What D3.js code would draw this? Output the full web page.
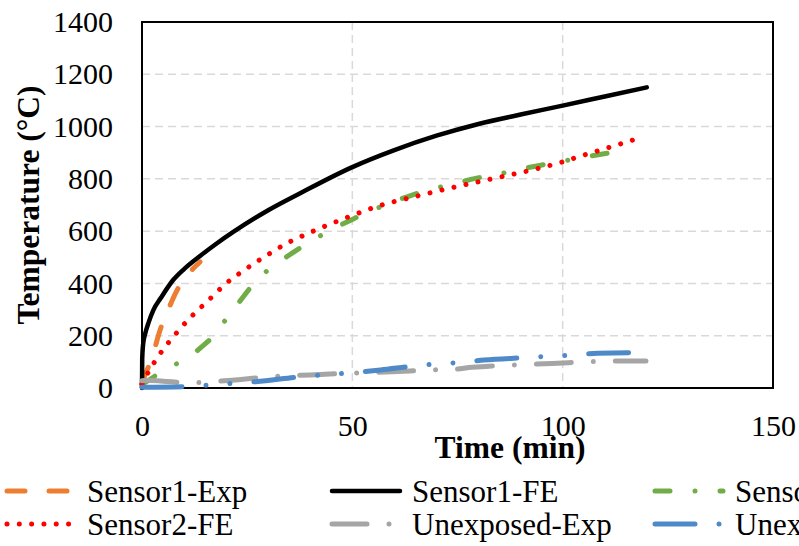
<!DOCTYPE html>
<html>
<head>
<meta charset="utf-8">
<script src="https://cdn.jsdelivr.net/npm/d3@7"></script>
<style>
  body { margin: 0; background: #fff; }
  text { font-family: "Liberation Serif", "Times New Roman", serif; fill: #000; }
</style>
</head>
<body>
<div id="chart"></div>
<script>
// tick values
var xTicks = [0, 50, 100, 150];
var yTicks = [0, 200, 400, 600, 800, 1000, 1200, 1400];

// series (time in min, temperature in °C)
var s1ExpTime = [0, 0.7, 1.5, 2.7, 4.3, 6.2, 8.1, 11.2, 13.8];
var s1ExpTemp = [15, 50, 80, 134, 222, 298, 367, 440, 482];

var s1FeTime = [0, 0.05, 0.25, 0.8, 1.6, 2.7, 4.5, 7.4, 10, 13.8, 17.5, 21.7, 30, 37.6, 50, 60, 70, 80, 90, 100, 110, 120];
var s1FeTemp = [0, 110, 165, 210, 252, 298, 345, 413, 455, 505, 550, 597, 680, 745, 845, 910, 965, 1010, 1046, 1080, 1115, 1150];

var s2ExpTime = [0, 1, 3, 4.7, 9.4, 12, 13.8, 17.4, 20.5, 24, 27.1, 31.2, 35.6, 40, 45, 50, 57, 64.2, 68.6, 74, 79.3, 83.8, 89.4, 94.8, 99.1, 104.9, 110.2, 115];
var s2ExpTemp = [15, 24, 45, 62, 103, 128, 152, 206, 275, 347, 410, 466, 515, 560, 605, 645, 695, 738, 760, 780, 802, 814, 836, 852, 865, 882, 897, 907];

var s2FeTime = [0, 1, 3.9, 7.6, 11.4, 15.7, 20, 24.5, 29.3, 34.4, 40, 50, 57, 64.6, 72, 78.9, 86, 93.2, 100, 104.3, 112, 118.4];
var s2FeTemp = [15, 46, 122, 199, 268, 334, 400, 453, 504, 553, 595, 660, 700, 731, 760, 785, 810, 836, 865, 887, 925, 957];

var unExpTime = [0, 1, 5, 11.4, 16.6, 21.4, 30.5, 40, 50, 59.4, 69, 73.7, 78.5, 88, 92.8, 97.5, 107, 111.8, 116.6, 119.8];
var unExpTemp = [28, 30, 26, 20, 24, 30, 43, 50, 57, 62, 69, 71, 79, 88, 91, 94, 101, 103, 103, 103];

var unFeTime = [0, 10, 15.8, 21.5, 27, 37.6, 47, 56.7, 64.6, 70, 75.7, 81.3, 92, 97.3, 103, 108.3, 119.4];
var unFeTemp = [3, 5, 11, 18, 24, 43, 55, 69, 84, 92, 98, 107, 117, 122, 126, 133, 135];

var seriesNames = ["Sensor1-Exp", "Sensor1-FE", "Sensor2-Exp", "Sensor2-FE", "Unexposed-Exp", "Unexposed-FE"];

function init(){

  var w = 799, h = 546;
  var plot = {left: 142, right: 773, top: 22, bottom: 388};

  var series = [
    {name: seriesNames[0], t: s1ExpTime, v: s1ExpTemp, color: "#ED7D31", width: 5, dash: "18,24"},
    {name: seriesNames[1], t: s1FeTime, v: s1FeTemp, color: "#000000", width: 4.5, dash: null},
    {name: seriesNames[2], t: s2ExpTime, v: s2ExpTemp, color: "#70AD47", width: 5, dash: "15,25,0.01,25"},
    {name: seriesNames[3], t: s2FeTime, v: s2FeTemp, color: "#FF0000", width: 5, dash: "0.01,12.3"},
    {name: seriesNames[4], t: unExpTime, v: unExpTemp, color: "#A5A5A5", width: 5, dash: "35,22,0.01,22"},
    {name: seriesNames[5], t: unFeTime, v: unFeTemp, color: "#4E89C8", width: 5, dash: "40,24,0.01,24,0.01,24"}
  ];

  var xScale = d3.scaleLinear().domain([0, 150]).range([plot.left, plot.right]);
  var yScale = d3.scaleLinear().domain([0, 1400]).range([plot.bottom, plot.top]);

  var svg = d3.select("#chart")
              .append("svg")
                .attr("width", w)
                .attr("height", h);

  //gridlines
  svg.append("g")
    .selectAll("line")
    .data(yTicks.filter(function(d){ return d > 0 && d < 1400; }))
    .enter()
    .append("line")
      .attr("x1", plot.left).attr("x2", plot.right)
      .attr("y1", function(d){ return yScale(d); })
      .attr("y2", function(d){ return yScale(d); })
      .attr("stroke", "#d9d9d9")
      .attr("stroke-width", 1.5)
      .attr("stroke-dasharray", "8,5");

  svg.append("g")
    .selectAll("line")
    .data(xTicks.filter(function(d){ return d > 0 && d < 150; }))
    .enter()
    .append("line")
      .attr("y1", plot.top).attr("y2", plot.bottom)
      .attr("x1", function(d){ return xScale(d); })
      .attr("x2", function(d){ return xScale(d); })
      .attr("stroke", "#d9d9d9")
      .attr("stroke-width", 1.5)
      .attr("stroke-dasharray", "8,5");

  //plot frame
  svg.append("rect")
    .attr("x", plot.left)
    .attr("y", plot.top)
    .attr("width", plot.right - plot.left)
    .attr("height", plot.bottom - plot.top)
    .attr("fill", "none")
    .attr("stroke", "#000")
    .attr("stroke-width", 2);

  //line generator
  var line = d3.line()
      .x(function(d) { return xScale(d[0]); })
      .y(function(d) { return yScale(d[1]); })
      .curve(d3.curveMonotoneX);

  series.forEach(function(s){
    var pts = s.t.map(function(t, i){ return [t, s.v[i]]; });
    svg.append("path")
      .datum(pts)
      .attr("d", line)
      .attr("fill", "none")
      .attr("stroke", s.color)
      .attr("stroke-width", s.width)
      .attr("stroke-linecap", "round")
      .attr("stroke-linejoin", "round")
      .attr("stroke-dasharray", s.dash);
  });

  //y-axis labels
  var yAxis = d3.axisLeft(yScale).tickValues(yTicks).tickFormat(d3.format("d")).tickSize(0).tickPadding(29);
  var gy = svg.append("g")
    .attr("transform", "translate(" + plot.left + ",0)")
    .call(yAxis)
    .attr("font-family", "Liberation Serif, serif")
    .attr("font-size", 30);
  gy.select(".domain").remove();
  gy.selectAll("text").attr("fill", "#000");

  //x-axis labels
  var xAxis = d3.axisBottom(xScale).tickValues(xTicks).tickFormat(d3.format("d")).tickSize(0).tickPadding(27);
  var gx = svg.append("g")
    .attr("transform", "translate(0," + plot.bottom + ")")
    .call(xAxis)
    .attr("font-family", "Liberation Serif, serif")
    .attr("font-size", 30);
  gx.select(".domain").remove();
  gx.selectAll("text").attr("fill", "#000");

  //axis titles
  svg.append("text")
    .attr("transform", "translate(39," + (plot.top + plot.bottom) / 2 + ") rotate(270)")
    .attr("text-anchor", "middle")
    .style("font-size", "31.5px")
    .style("font-weight", "bold")
    .text("Temperature (°C)");

  svg.append("text")
    .attr("x", 510)
    .attr("y", 458)
    .attr("text-anchor", "middle")
    .style("font-size", "31.5px")
    .style("font-weight", "bold")
    .text("Time (min)");

  //legend
  var colX = [7, 332, 655];
  var rowY = [491, 524];
  var legend = svg.append("g")
    .selectAll("g")
    .data(series)
    .enter()
    .append("g")
    .attr("transform", function(d, i){
      return "translate(" + colX[i % 3] + "," + rowY[Math.floor(i / 3)] + ")";
    });

  legend.append("line")
    .attr("x1", 0).attr("x2", 68)
    .attr("y1", 0).attr("y2", 0)
    .attr("stroke", function(d){ return d.color; })
    .attr("stroke-width", function(d){ return d.width; })
    .attr("stroke-linecap", "round")
    .attr("stroke-dasharray", function(d){ return d.dash; });

  legend.append("text")
    .attr("x", 80)
    .attr("y", 10.5)
    .style("font-size", "31px")
    .text(function(d){ return d.name; });
}

window.onload = init;
</script>
</body>
</html>
